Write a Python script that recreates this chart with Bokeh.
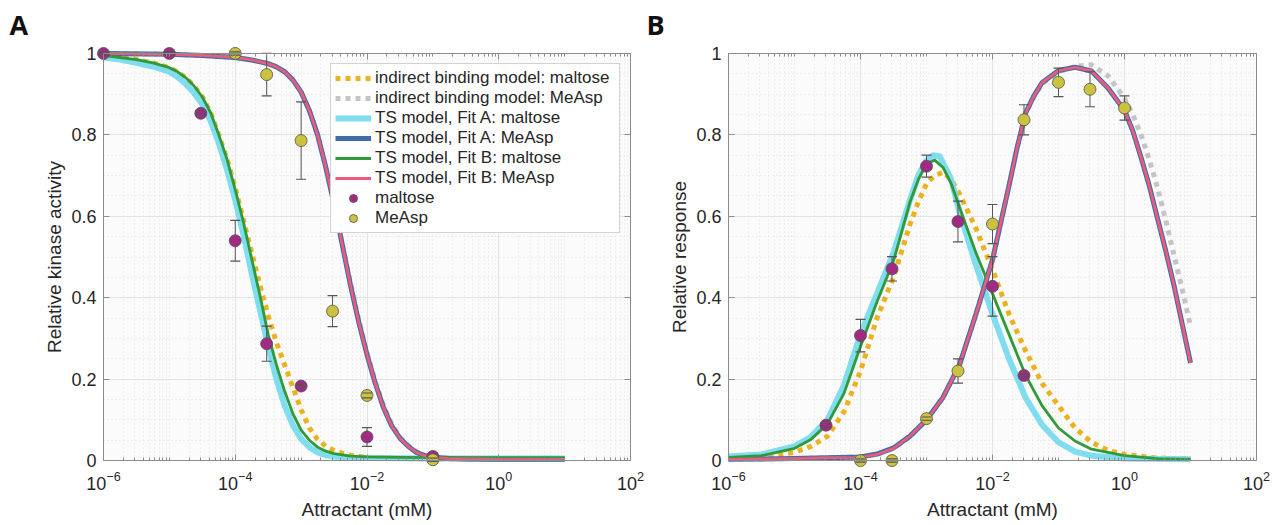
from bokeh.plotting import figure
from bokeh.models import (FixedTicker, LogAxis, LinearAxis, Legend, LegendItem, BoxAnnotation)
from bokeh.layouts import row
from bokeh.embed import file_html
from bokeh.resources import INLINE

# ---------------- ticks ----------------
x_major = [1e-6, 1e-4, 1e-2, 1e0, 1e2]
x_minor = [m * 10.0 ** k for k in range(-6, 2) for m in range(1, 10) if not (m == 1 and k % 2 == 0)]
y_major = [0, 0.2, 0.4, 0.6, 0.8, 1.0]
y_labels = ["0", "0.2", "0.4", "0.6", "0.8", "1"]
y_minor = [0.05, 0.1, 0.15, 0.25, 0.3, 0.35, 0.45, 0.5, 0.55, 0.65, 0.7, 0.75, 0.85, 0.9, 0.95]
x_lim = (1e-6, 1e2)
y_lim = (0.0, 1.0)

# ---------------- panel A: data points ----------------
a_malt_x = [1e-6, 1e-5, 3e-5, 1e-4, 3e-4, 1e-3, 1e-2, 1e-1]
a_malt_y = [1.0, 1.0, 0.853, 0.540, 0.287, 0.183, 0.058, 0.010]
a_malt_e = [0.004, 0.004, 0.004, 0.050, 0.043, 0.004, 0.023, 0.004]

a_measp_x = [1e-4, 3e-4, 1e-3, 3e-3, 1e-2, 1e-1]
a_measp_y = [1.0, 0.948, 0.786, 0.367, 0.160, 0.002]
a_measp_e = [0.004, 0.052, 0.095, 0.038, 0.006, 0.004]

# ---------------- panel A: model curves (log10 concentration, value) ----------------
a_ind_malt_lx = [-6, -5.75, -5.5, -5.25, -5, -4.875, -4.75, -4.625, -4.5, -4.375, -4.25, -4.125, -4, -3.875, -3.75, -3.625, -3.5, -3.375, -3.25, -3.125, -3, -2.875, -2.75, -2.625, -2.5, -2.375, -2.25, -2.125, -2, -1.5, -1, 0, 1]
a_ind_malt_y = [0.995, 0.99, 0.985, 0.977, 0.965, 0.955, 0.94, 0.92, 0.893, 0.855, 0.80, 0.74, 0.67, 0.59, 0.51, 0.43, 0.355, 0.29, 0.235, 0.18, 0.125, 0.08, 0.052, 0.035, 0.025, 0.018, 0.013, 0.01, 0.008, 0.005, 0.004, 0.003, 0.003]

a_ind_measp_lx = [-6, -5, -4.5, -4, -3.75, -3.5, -3.375, -3.25, -3.125, -3, -2.875, -2.75, -2.625, -2.5, -2.375, -2.25, -2.125, -2, -1.875, -1.75, -1.625, -1.5, -1.375, -1.25, -1.125, -1, -0.75, -0.5, 0, 1]
a_ind_measp_y = [1.0, 0.998, 0.995, 0.99, 0.984, 0.975, 0.967, 0.955, 0.935, 0.905, 0.86, 0.80, 0.72, 0.63, 0.53, 0.435, 0.345, 0.265, 0.195, 0.135, 0.09, 0.058, 0.037, 0.022, 0.013, 0.009, 0.005, 0.004, 0.003, 0.003]

a_fitA_malt_lx = [-6, -5.75, -5.5, -5.25, -5, -4.875, -4.75, -4.625, -4.5, -4.375, -4.25, -4.125, -4, -3.875, -3.75, -3.625, -3.5, -3.375, -3.25, -3.125, -3, -2.875, -2.75, -2.625, -2.5, -2.25, -2, -1, 0, 1]
a_fitA_malt_y = [0.99, 0.985, 0.977, 0.968, 0.955, 0.942, 0.925, 0.903, 0.875, 0.835, 0.78, 0.715, 0.64, 0.555, 0.46, 0.37, 0.28, 0.20, 0.135, 0.087, 0.053, 0.033, 0.02, 0.013, 0.01, 0.007, 0.006, 0.005, 0.005, 0.005]

a_fitA_measp_lx = [-6, -5, -4.5, -4, -3.75, -3.5, -3.375, -3.25, -3.125, -3, -2.875, -2.75, -2.625, -2.5, -2.375, -2.25, -2.125, -2, -1.875, -1.75, -1.625, -1.5, -1.375, -1.25, -1.125, -1, -0.75, -0.5, 0, 1]
a_fitA_measp_y = [1.0, 0.998, 0.995, 0.99, 0.984, 0.975, 0.967, 0.955, 0.935, 0.905, 0.86, 0.80, 0.72, 0.63, 0.53, 0.43, 0.34, 0.26, 0.19, 0.13, 0.085, 0.055, 0.035, 0.02, 0.012, 0.008, 0.005, 0.004, 0.003, 0.003]

a_fitB_malt_lx = [-6, -5.75, -5.5, -5.25, -5, -4.875, -4.75, -4.625, -4.5, -4.375, -4.25, -4.125, -4, -3.875, -3.75, -3.625, -3.5, -3.375, -3.25, -3.125, -3, -2.875, -2.75, -2.625, -2.5, -2.25, -2, -1.5, -1, 0, 1]
a_fitB_malt_y = [0.995, 0.99, 0.985, 0.977, 0.965, 0.955, 0.94, 0.92, 0.893, 0.855, 0.80, 0.74, 0.665, 0.585, 0.495, 0.405, 0.31, 0.235, 0.17, 0.115, 0.075, 0.05, 0.033, 0.023, 0.017, 0.011, 0.009, 0.008, 0.007, 0.007, 0.007]

a_fitB_measp_lx = [-6, -5, -4.5, -4, -3.75, -3.5, -3.375, -3.25, -3.125, -3, -2.875, -2.75, -2.625, -2.5, -2.375, -2.25, -2.125, -2, -1.875, -1.75, -1.625, -1.5, -1.375, -1.25, -1.125, -1, -0.75, -0.5, 0, 1]
a_fitB_measp_y = [1.0, 0.998, 0.995, 0.99, 0.984, 0.975, 0.967, 0.955, 0.935, 0.905, 0.86, 0.80, 0.72, 0.63, 0.53, 0.43, 0.34, 0.26, 0.19, 0.13, 0.085, 0.055, 0.035, 0.02, 0.012, 0.008, 0.005, 0.004, 0.003, 0.003]

# ---------------- panel B: data points ----------------
b_malt_x = [3e-5, 1e-4, 3e-4, 1e-3, 3e-3, 1e-2, 3e-2]
b_malt_y = [0.087, 0.307, 0.471, 0.723, 0.587, 0.428, 0.209]
b_malt_e = [0.004, 0.040, 0.030, 0.027, 0.050, 0.073, 0.004]

b_measp_x = [1e-4, 3e-4, 1e-3, 3e-3, 1e-2, 3e-2, 1e-1, 3e-1, 1e0]
b_measp_y = [0.0, 0.0, 0.103, 0.220, 0.581, 0.837, 0.929, 0.912, 0.866]
b_measp_e = [0.004, 0.004, 0.004, 0.030, 0.048, 0.037, 0.035, 0.043, 0.030]

# ---------------- panel B: model curves ----------------
b_ind_malt_lx = [-6, -5.5, -5, -4.75, -4.5, -4.25, -4, -3.75, -3.5, -3.25, -3.125, -3, -2.875, -2.75, -2.625, -2.5, -2.25, -2, -1.75, -1.5, -1.25, -1, -0.75, -0.5, -0.25, 0, 0.5, 1]
b_ind_malt_y = [0.005, 0.008, 0.02, 0.035, 0.06, 0.12, 0.22, 0.35, 0.45, 0.58, 0.635, 0.68, 0.70, 0.708, 0.69, 0.655, 0.57, 0.469, 0.36, 0.27, 0.19, 0.135, 0.08, 0.045, 0.025, 0.015, 0.006, 0.004]

b_ind_measp_lx = [-6, -5, -4.5, -4, -3.75, -3.5, -3.25, -3, -2.75, -2.5, -2.25, -2, -1.75, -1.625, -1.5, -1.375, -1.25, -1, -0.75, -0.5, -0.25, 0, 0.125, 0.25, 0.375, 0.5, 0.625, 0.75, 0.875, 1]
b_ind_measp_y = [0.003, 0.005, 0.007, 0.009, 0.015, 0.03, 0.058, 0.10, 0.155, 0.235, 0.36, 0.493, 0.675, 0.77, 0.85, 0.893, 0.925, 0.955, 0.968, 0.972, 0.945, 0.89, 0.85, 0.80, 0.74, 0.67, 0.59, 0.505, 0.42, 0.33]

b_fitA_malt_lx = [-6, -5.5, -5, -4.75, -4.5, -4.25, -4, -3.75, -3.5, -3.25, -3.125, -3, -2.9, -2.8, -2.625, -2.5, -2.25, -2, -1.75, -1.5, -1.25, -1, -0.75, -0.5, 0, 1]
b_fitA_malt_y = [0.01, 0.015, 0.035, 0.058, 0.10, 0.185, 0.31, 0.41, 0.51, 0.64, 0.70, 0.737, 0.75, 0.747, 0.69, 0.61, 0.48, 0.36, 0.25, 0.155, 0.088, 0.045, 0.022, 0.012, 0.005, 0.003]

b_fitA_measp_lx = [-6, -5, -4.5, -4, -3.75, -3.5, -3.25, -3, -2.75, -2.5, -2.25, -2, -1.75, -1.625, -1.5, -1.375, -1.25, -1, -0.75, -0.5, -0.25, 0, 0.125, 0.25, 0.375, 0.5, 0.625, 0.75, 0.875, 1]
b_fitA_measp_y = [0.003, 0.005, 0.007, 0.009, 0.016, 0.031, 0.06, 0.10, 0.155, 0.235, 0.36, 0.493, 0.675, 0.77, 0.853, 0.895, 0.928, 0.958, 0.966, 0.957, 0.915, 0.86, 0.81, 0.745, 0.675, 0.595, 0.515, 0.43, 0.335, 0.24]

b_fitB_malt_lx = [-6, -5.5, -5, -4.75, -4.5, -4.25, -4, -3.75, -3.5, -3.25, -3.125, -3, -2.875, -2.75, -2.625, -2.5, -2.25, -2, -1.75, -1.5, -1.25, -1, -0.75, -0.5, 0, 0.5, 1]
b_fitB_malt_y = [0.008, 0.012, 0.03, 0.052, 0.09, 0.165, 0.28, 0.39, 0.49, 0.635, 0.69, 0.729, 0.738, 0.72, 0.68, 0.622, 0.51, 0.41, 0.31, 0.21, 0.135, 0.08, 0.048, 0.028, 0.012, 0.005, 0.003]

b_fitB_measp_lx = [-6, -5, -4.5, -4, -3.75, -3.5, -3.25, -3, -2.75, -2.5, -2.25, -2, -1.75, -1.625, -1.5, -1.375, -1.25, -1, -0.75, -0.5, -0.25, 0, 0.125, 0.25, 0.375, 0.5, 0.625, 0.75, 0.875, 1]
b_fitB_measp_y = [0.003, 0.005, 0.007, 0.008, 0.015, 0.03, 0.06, 0.10, 0.155, 0.235, 0.36, 0.493, 0.675, 0.77, 0.853, 0.895, 0.928, 0.958, 0.966, 0.957, 0.915, 0.86, 0.81, 0.745, 0.675, 0.595, 0.515, 0.43, 0.335, 0.24]

legend_labels = ["indirect binding model: maltose", "indirect binding model: MeAsp",
                 "TS model, Fit A: maltose", "TS model, Fit A: MeAsp",
                 "TS model, Fit B: maltose", "TS model, Fit B: MeAsp",
                 "maltose", "MeAsp"]

# ---------------- styles ----------------
C_ORANGE = "#edb120"
C_GRAY = "#c4c4c4"
C_CYAN = "#80dcef"
C_BLUE = "#3f6ea6"
C_GREEN = "#2f9a38"
C_PINK = "#ec5b7c"
C_MALT = "#a12a82"
C_MEASP = "#cbc23f"
FONT = "Liberation Sans"
TXT = "#262626"
AX = "#8c8c8c"
PAD = 7  # px of free space round the axes box so that edge markers are not clipped


def conc(lx):
    return [10.0 ** v for v in lx]


def frame_axis(cls, ticker, loc, bounds, minor_in):
    # axis line + inward ticks only, drawn on the box edge
    return cls(ticker=ticker, axis_line_color=AX, major_tick_line_color=AX, minor_tick_line_color=AX,
               major_tick_in=6, major_tick_out=0, minor_tick_in=minor_in, minor_tick_out=0,
               major_label_overrides={v: "" for v in ticker.ticks}, major_label_standoff=0,
               fixed_location=loc, bounds=bounds)


def make_fig(width, box_left, box_w, ylabel, letter, letter_x):
    box_top, box_h = 49, 411
    dec = box_w / 8.0
    xpad = PAD / dec
    ypad = PAD / box_h
    left = box_left - PAD
    right = width - (box_left + box_w + PAD)
    p = figure(width=width, height=525, x_axis_type="log",
               x_range=(10 ** (-6 - xpad), 10 ** (2 + xpad)), y_range=(-ypad, 1 + ypad),
               output_backend="svg", toolbar_location=None,
               min_border_left=left, min_border_right=right,
               min_border_top=box_top - PAD, min_border_bottom=525 - (box_top + box_h + PAD),
               background_fill_color="white", border_fill_color="white",
               outline_line_color=None)
    p.add_layout(BoxAnnotation(left=x_lim[0], right=x_lim[1], bottom=y_lim[0], top=y_lim[1],
                               fill_color="#fbfbfb", fill_alpha=1, line_color=None, level="image"))
    xt = FixedTicker(ticks=x_major, minor_ticks=x_minor)
    yt = FixedTicker(ticks=y_major, minor_ticks=y_minor)

    # label-only axes on the frame edges
    p.xaxis.ticker = xt
    p.yaxis.ticker = yt
    p.yaxis.major_label_overrides = {v: s for v, s in zip(y_major, y_labels)}
    for ax in (p.xaxis[0], p.yaxis[0]):
        ax.axis_line_color = None
        ax.major_tick_line_color = None
        ax.minor_tick_line_color = None
        ax.major_tick_in = 0
        ax.major_tick_out = 0
        ax.minor_tick_in = 0
        ax.minor_tick_out = 0
        ax.major_label_text_font = FONT
        ax.major_label_text_font_size = "18px"
        ax.major_label_text_color = TXT
        ax.axis_label_text_font = FONT
        ax.axis_label_text_font_size = "19px"
        ax.axis_label_text_font_style = "normal"
        ax.axis_label_text_color = TXT
    p.xaxis.major_label_standoff = 3
    p.xaxis.axis_label_standoff = 6
    p.yaxis.major_label_standoff = 0
    p.yaxis.axis_label_standoff = 3
    p.xaxis.axis_label = "Attractant (mM)"
    p.yaxis.axis_label = ylabel

    # box edges with inward ticks
    p.add_layout(frame_axis(LogAxis, xt, y_lim[0], x_lim, 3), "below")
    p.add_layout(frame_axis(LogAxis, xt, y_lim[1], x_lim, 3), "above")
    p.add_layout(frame_axis(LinearAxis, yt, x_lim[0], y_lim, 0), "left")
    p.add_layout(frame_axis(LinearAxis, yt, x_lim[1], y_lim, 0), "right")

    p.xgrid.ticker = xt
    p.ygrid.ticker = yt
    p.xgrid.bounds = x_lim
    p.ygrid.bounds = y_lim
    for g, cb in ((p.xgrid[0], y_lim), (p.ygrid[0], x_lim)):
        g.grid_line_color = "#e3e3e3"
        g.grid_line_width = 1
        g.minor_grid_line_color = "#e0e0e0"
        g.minor_grid_line_dash = "1 3"
        if "cross_bounds" in g.properties():
            g.cross_bounds = cb

    p.title.text = letter
    p.title.align = "left"
    p.title.offset = letter_x - left
    p.title.text_font = "Open Sans"
    p.title.text_font_size = "27px"
    p.title.text_font_style = "bold"
    p.title.text_color = "#111111"
    p.title.standoff = 7
    return p


def add_points(p, xs, ys, es, color):
    lo = [y - e for y, e in zip(ys, es)]
    hi = [y + e for y, e in zip(ys, es)]
    p.segment(x0=xs, y0=lo, x1=xs, y1=hi, line_color="#555555", line_width=1)
    r = p.scatter(xs, ys, marker="circle", size=12, fill_color=color, line_color="#505050", line_width=0.8)
    p.scatter(xs + xs, lo + hi, marker="dash", size=10, line_color="#555555", line_width=1.2)
    return r


def draw_panel(p, data):
    rs = []
    rs.append(p.line(conc(data["ind_malt_lx"]), data["ind_malt_y"], line_color=C_ORANGE, line_width=5, line_dash="5 5"))
    rs.append(p.line(conc(data["ind_measp_lx"]), data["ind_measp_y"], line_color=C_GRAY, line_width=5, line_dash="5 5"))
    rs.append(p.line(conc(data["fitA_malt_lx"]), data["fitA_malt_y"], line_color=C_CYAN, line_width=6, line_join="round"))
    rs.append(p.line(conc(data["fitA_measp_lx"]), data["fitA_measp_y"], line_color=C_BLUE, line_width=5, line_join="round"))
    rs.append(p.line(conc(data["fitB_malt_lx"]), data["fitB_malt_y"], line_color=C_GREEN, line_width=2.8, line_join="round"))
    rs.append(p.line(conc(data["fitB_measp_lx"]), data["fitB_measp_y"], line_color=C_PINK, line_width=2.8, line_join="round"))
    rs.append(add_points(p, data["malt_x"], data["malt_y"], data["malt_e"], C_MALT))
    rs.append(add_points(p, data["measp_x"], data["measp_y"], data["measp_e"], C_MEASP))
    return rs


pA = make_fig(645, 103, 527, "Relative kinase activity", "A", 9)
rA = draw_panel(pA, dict(ind_malt_lx=a_ind_malt_lx, ind_malt_y=a_ind_malt_y,
                         ind_measp_lx=a_ind_measp_lx, ind_measp_y=a_ind_measp_y,
                         fitA_malt_lx=a_fitA_malt_lx, fitA_malt_y=a_fitA_malt_y,
                         fitA_measp_lx=a_fitA_measp_lx, fitA_measp_y=a_fitA_measp_y,
                         fitB_malt_lx=a_fitB_malt_lx, fitB_malt_y=a_fitB_malt_y,
                         fitB_measp_lx=a_fitB_measp_lx, fitB_measp_y=a_fitB_measp_y,
                         malt_x=a_malt_x, malt_y=a_malt_y, malt_e=a_malt_e,
                         measp_x=a_measp_x, measp_y=a_measp_y, measp_e=a_measp_e))

legend = Legend(items=[LegendItem(label=lab, renderers=[r]) for lab, r in zip(legend_labels, rA)],
                location="top_right", margin=PAD + 10, padding=4, spacing=0,
                glyph_width=36, glyph_height=20, label_height=20, label_standoff=4, label_width=240,
                label_text_font=FONT, label_text_font_size="17px", label_text_color=TXT,
                border_line_color="#a6a6a6", border_line_width=1,
                background_fill_color="white", background_fill_alpha=1)
pA.add_layout(legend)

pB = make_fig(640, 83, 528, "Relative response", "B", 1)
draw_panel(pB, dict(ind_malt_lx=b_ind_malt_lx, ind_malt_y=b_ind_malt_y,
                    ind_measp_lx=b_ind_measp_lx, ind_measp_y=b_ind_measp_y,
                    fitA_malt_lx=b_fitA_malt_lx, fitA_malt_y=b_fitA_malt_y,
                    fitA_measp_lx=b_fitA_measp_lx, fitA_measp_y=b_fitA_measp_y,
                    fitB_malt_lx=b_fitB_malt_lx, fitB_malt_y=b_fitB_malt_y,
                    fitB_measp_lx=b_fitB_measp_lx, fitB_measp_y=b_fitB_measp_y,
                    malt_x=b_malt_x, malt_y=b_malt_y, malt_e=b_malt_e,
                    measp_x=b_measp_x, measp_y=b_measp_y, measp_e=b_measp_e))

layout = row(pA, pB, spacing=0)
open("out.html", "w").write(file_html(layout, INLINE))
